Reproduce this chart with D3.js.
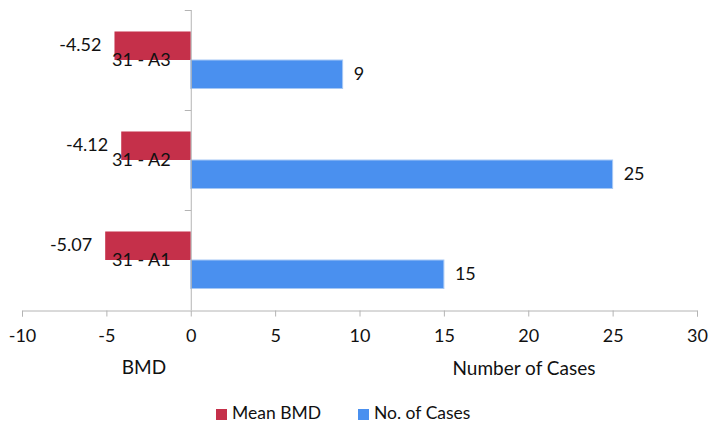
<!DOCTYPE html>
<html><head><meta charset="utf-8">
<script src="https://cdn.jsdelivr.net/npm/d3@7/dist/d3.min.js"></script>
<style>body{margin:0;background:#fff}svg{display:block}text{font-family:Lato,"Open Sans",sans-serif;fill:#111}</style>
</head><body><svg id="c" width="723" height="435"></svg>
<script>
const categories = ["31 - A3","31 - A2","31 - A1"];
const meanBMD = [-4.52, -4.12, -5.07];
const noCases = [9, 25, 15];
const seriesNames = ["Mean BMD","No. of Cases"];
const seriesColors = ["#c5304a","#4a90ef"];
const xTicks = [-10,-5,0,5,10,15,20,25,30];

const svg = d3.select("#c");
const x = d3.scaleLinear().domain([-10,30]).range([22,697]);
const y = d3.scaleBand().domain(categories).range([10,310]).padding(0);
const inner = d3.scaleBand().domain(seriesNames).range([0,y.bandwidth()]).paddingInner(0).paddingOuter(0.754);
const axisColor = "#b4b4b4";

// x axis
const xa = svg.append("g").attr("transform","translate(0,310.5)")
  .call(d3.axisBottom(x).tickValues(xTicks).tickSize(6).tickFormat(d=>String(d)));
xa.select(".domain").attr("stroke",axisColor);
xa.selectAll(".tick line").attr("stroke",axisColor);
xa.selectAll(".tick text").attr("font-size",18).attr("dy",0).attr("y",27).attr("dominant-baseline","middle").style("font-family","Lato").attr("fill","#111");

// bars
const data = categories.map((c,i)=>({c, v:[meanBMD[i], noCases[i]]}));
const g = svg.append("g");
data.forEach(d=>{
  d.v.forEach((v,j)=>{
    const yy = y(d.c)+inner(seriesNames[j]);
    g.append("rect").attr("x",x(Math.min(0,v))).attr("y",yy)
      .attr("width",Math.abs(x(v)-x(0))).attr("height",inner.bandwidth())
      .attr("fill",seriesColors[j])
      .attr("stroke", j===1 ? "#a6c8f5" : "none").attr("stroke-width",1);
    const t = g.append("text").attr("font-size",18).attr("dominant-baseline","middle")
      .attr("y",yy+inner.bandwidth()/2+1);
    if(v<0) t.attr("x",x(v)-13).attr("text-anchor","end").text(v.toFixed(2));
    else t.attr("x",x(v)+11).attr("text-anchor","start").text(v);
  });
});

// y axis
const ya = svg.append("g").attr("transform",`translate(${x(0)},0)`)
  .call(d3.axisLeft(y).tickSize(0).tickPadding(20));
ya.select(".domain").attr("stroke",axisColor).attr("d","M0.5,10V310");
ya.selectAll(".tick text").attr("font-size",18).attr("dy",0).attr("dominant-baseline","middle").style("font-family","Lato").attr("fill","#111").attr("y",1);
// category separator ticks
ya.selectAll(".sep").data([10,110,210]).enter().append("line").attr("class","sep")
  .attr("x1",-6).attr("x2",0.5).attr("y1",d=>d+0.5).attr("y2",d=>d+0.5).attr("stroke",axisColor);

// axis titles
svg.append("text").attr("x",144).attr("y",369).attr("text-anchor","middle").attr("dominant-baseline","middle").attr("font-size",19).text("BMD");
svg.append("text").attr("x",524).attr("y",370).attr("text-anchor","middle").attr("dominant-baseline","middle").attr("font-size",19).text("Number of Cases");

// legend
const legX = [216, 358];
seriesNames.forEach((s,i)=>{
  svg.append("rect").attr("x",legX[i]).attr("y",409).attr("width",11).attr("height",11).attr("fill",seriesColors[i]);
  svg.append("text").attr("x",legX[i]+16).attr("y",415).attr("dominant-baseline","middle").attr("font-size",17.5).text(s);
});
</script></body></html>
